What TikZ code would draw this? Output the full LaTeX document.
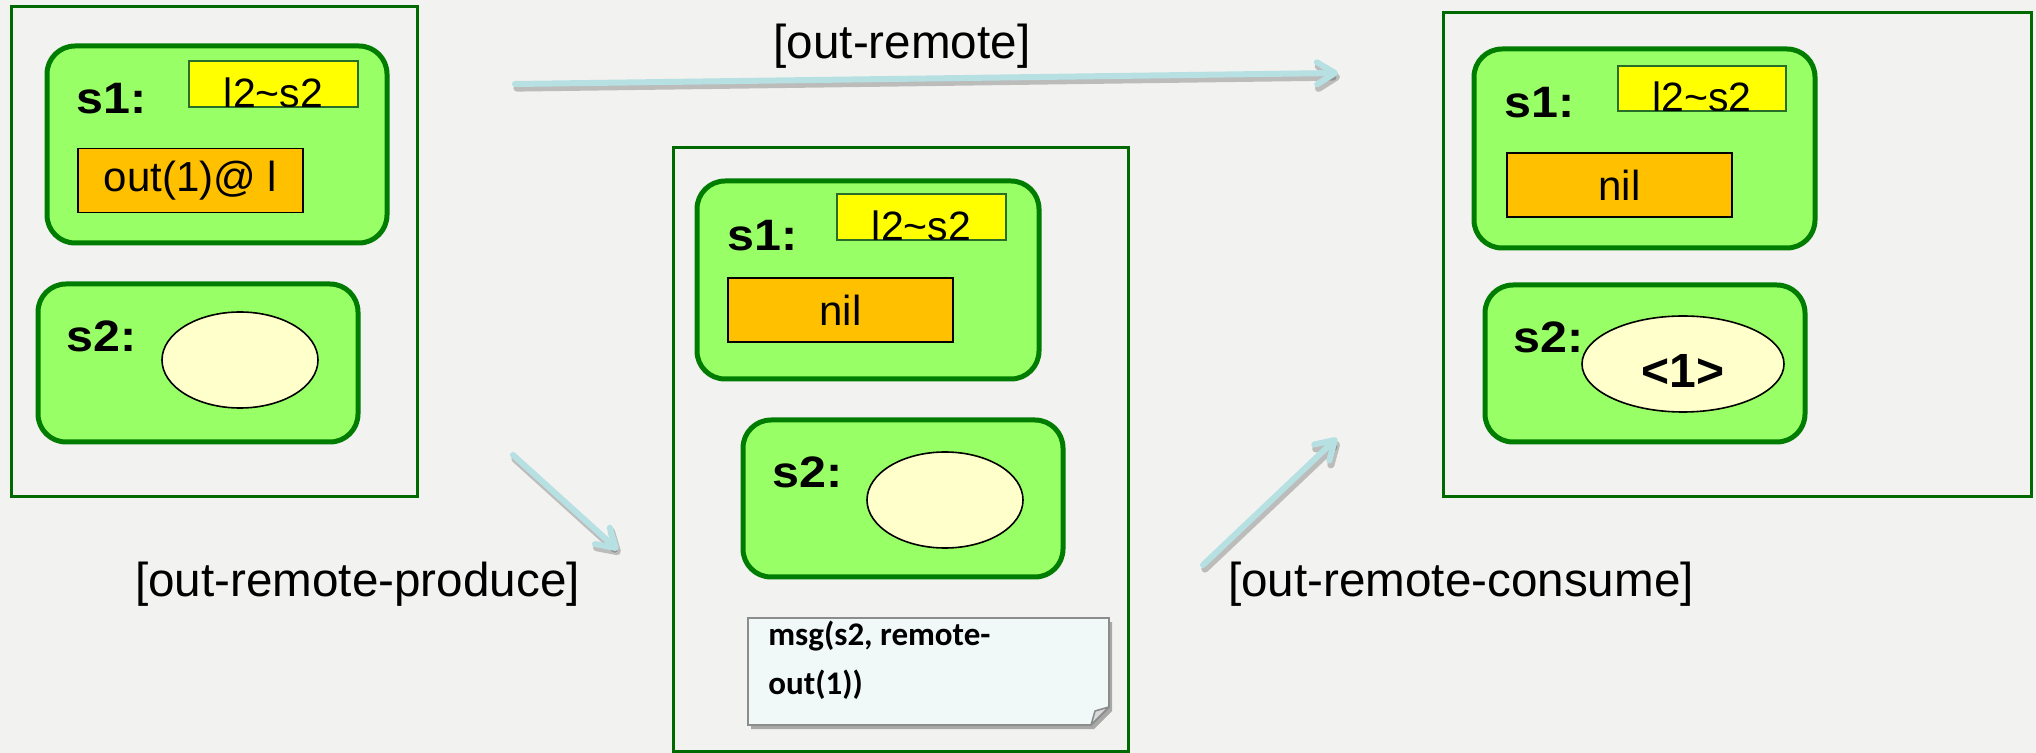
\documentclass[tikz,border=0pt]{standalone}
\usepackage{fontspec}
\setmainfont{Liberation Sans}
\newfontfamily\statefont[FakeStretch=1.1]{Liberation Sans}
\newfontfamily\notefont{Carlito}
\usetikzlibrary{shapes.geometric,shapes.misc,arrows.meta,shadows,calc}

\definecolor{pagebg}{RGB}{242,242,240}
\definecolor{cellfill}{RGB}{153,255,102}
\definecolor{cellline}{RGB}{0,125,0}
\definecolor{frameline}{RGB}{0,105,0}
\definecolor{procfill}{RGB}{255,192,0}
\definecolor{tagfill}{RGB}{255,255,0}
\definecolor{tagline}{RGB}{40,110,40}
\definecolor{tuplefill}{RGB}{255,255,204}
\definecolor{notefill}{RGB}{240,248,248}
\definecolor{noteline}{RGB}{140,140,140}
\definecolor{foldfill}{RGB}{215,218,218}
\definecolor{flowline}{RGB}{183,224,227}

\begin{document}
\begin{tikzpicture}[x=0.5pt,y=-0.5pt,
  frame/.style={draw=frameline,line width=1.5pt,inner sep=0pt},
  cell/.style={draw=cellline,fill=cellfill,line width=2.5pt,rounded corners=14pt,inner sep=0pt},
  proc/.style={draw=black,fill=procfill,line width=0.9pt,inner sep=0pt,
    minimum width=112.5pt,minimum height=32pt,font=\fontsize{21}{25}\selectfont},
  tag/.style={shape=chamfered rectangle,chamfered rectangle corners=north east,
    chamfered rectangle xsep=3pt,chamfered rectangle ysep=3pt,
    fill=tagfill,draw=tagline,line width=0.7pt,inner sep=0pt,
    minimum width=84.5pt,minimum height=23pt},
  tagtext/.style={anchor=base,inner sep=0pt,font=\fontsize{20.5}{24}\selectfont},
  tuple/.style={ellipse,draw=black,fill=tuplefill,line width=0.8pt,inner sep=0pt,
    minimum width=78pt,minimum height=48pt},
  slabel/.style={anchor=base west,inner sep=0pt,font=\statefont\bfseries\fontsize{22}{26}\selectfont},
  rulename/.style={inner sep=0pt,font=\fontsize{23.8}{28}\selectfont},
  flow/.style={draw=flowline,line width=3pt,line cap=round,
    -{Straight Barb[round,length=9pt,width=11pt]}},
  flowshadow/.style={draw=black,opacity=0.22,line width=3.6pt,line cap=round,
    -{Straight Barb[round,length=9pt,width=11pt]},
    transform canvas={xshift=1pt,yshift=-2pt}},
  notebox/.style={fill=notefill,draw=noteline,line width=0.9pt,
    drop shadow={shadow xshift=1.5pt,shadow yshift=-2pt,fill=black,opacity=0.3}},
  notetext/.style={anchor=north west,inner sep=0pt,align=left,
    font=\notefont\bfseries\fontsize{16.5}{24.5}\selectfont}
]
% page
\fill[pagebg] (0,0) rectangle (2036,753);
\useasboundingbox (0,0) rectangle (2036,753);

% ---------------- left configuration ----------------
\node[frame,minimum width=203pt,minimum height=245pt] (Lnet) at (214,252) {};
\node[cell,minimum width=170pt,minimum height=98.5pt] (Ls1) at (217,144.5) {};
\node[tag] (Ltag) at (273.5,84) {};
\begin{scope}
  \clip ([yshift=0.4pt]Ltag.south west) rectangle (Ltag.north east);
  \node[tagtext] (Ltagtext) at ([yshift=0.3pt]Ltag.south) {l2\textasciitilde s2};
\end{scope}
\node[slabel] (Ls1name) at (76,114) {s1:};
\node[proc] (Lproc) at (190.5,180.5) {out(1)@ l};
\node[cell,minimum width=160pt,minimum height=79pt] (Ls2) at (198,363) {};
\node[slabel] (Ls2name) at (66,352) {s2:};
\node[tuple] (Ltuple) at (240,360) {};

% ---------------- middle configuration ----------------
\node[frame,minimum width=227.5pt,minimum height=301.5pt] (Mnet) at (900.5,449.5) {};
\node[cell,minimum width=171pt,minimum height=99pt] (Ms1) at (868,280) {};
\node[tag] (Mtag) at (921.5,217) {};
\begin{scope}
  \clip ([yshift=0.4pt]Mtag.south west) rectangle (Mtag.north east);
  \node[tagtext] (Mtagtext) at ([yshift=0.3pt]Mtag.south) {l2\textasciitilde s2};
\end{scope}
\node[slabel] (Ms1name) at (727,251) {s1:};
\node[proc] (Mproc) at (840.5,310) {nil};
\node[cell,minimum width=160pt,minimum height=78.5pt] (Ms2) at (903,498.5) {};
\node[slabel] (Ms2name) at (772,488) {s2:};
\node[tuple] (Mtuple) at (945,500) {};

% pending message with a folded corner
\coordinate (nNW) at (748,618);
\coordinate (nNE) at (1109,618);
\coordinate (nE)  at (1109,707);
\coordinate (nS)  at (1091,725);
\coordinate (nSW) at (748,725);
\coordinate (nFold) at (1095,711);
\path[notebox] (nNW) -- (nNE) -- (nE) -- (nS) -- (nSW) -- cycle;
\filldraw[fill=foldfill,draw=noteline,line width=0.8pt,line join=round]
  (nE) -- (nFold) -- (nS) -- cycle;
\node[notetext] (msg) at (768,621) {msg(s2, remote-\\out(1))};

% ---------------- right configuration ----------------
\node[frame,minimum width=294pt,minimum height=242pt] (Rnet) at (1737,255) {};
\node[cell,minimum width=170.5pt,minimum height=99.5pt] (Rs1) at (1644.5,148.5) {};
\node[tag,minimum width=84pt,minimum height=22.5pt] (Rtag) at (1702,88.5) {};
\begin{scope}
  \clip ([yshift=0.4pt]Rtag.south west) rectangle (Rtag.north east);
  \node[tagtext] (Rtagtext) at ([yshift=0.3pt]Rtag.south) {l2\textasciitilde s2};
\end{scope}
\node[slabel] (Rs1name) at (1504,118) {s1:};
\node[proc] (Rproc) at (1619.5,185) {nil};
\node[cell,minimum width=160pt,minimum height=78.5pt] (Rs2) at (1645,363.5) {};
\node[tuple,minimum width=101pt] (Rtuple) at (1683,364) {};
\node[slabel] (Rs2name) at (1513,353) {s2:};
\node[anchor=base,inner sep=0pt,font=\bfseries\fontsize{24}{28}\selectfont] (Rval) at (1683,388) {<1>};

% ---------------- transitions ----------------
\coordinate (topA) at (515,84);
\coordinate (topB) at (1338,73);
\coordinate (prodA) at (513,455);
\coordinate (prodB) at (618,550);
\coordinate (consA) at (1203,565);
\coordinate (consB) at (1337,438);

\draw[flowshadow] (topA) -- (topB);
\draw[flowshadow] (prodA) -- (prodB);
\draw[flowshadow] (consA) -- (consB);
\draw[flow] (topA) -- (topB);
\draw[flow] (prodA) -- (prodB);
\draw[flow] (consA) -- (consB);

\node[rulename] (rRemote) at (902,46.5) {[out-remote]};
\node[rulename] (rProduce) at (357.5,584) {[out-remote-produce]};
\node[rulename] (rConsume) at (1461,584) {[out-remote-consume]};
\end{tikzpicture}
\end{document}
